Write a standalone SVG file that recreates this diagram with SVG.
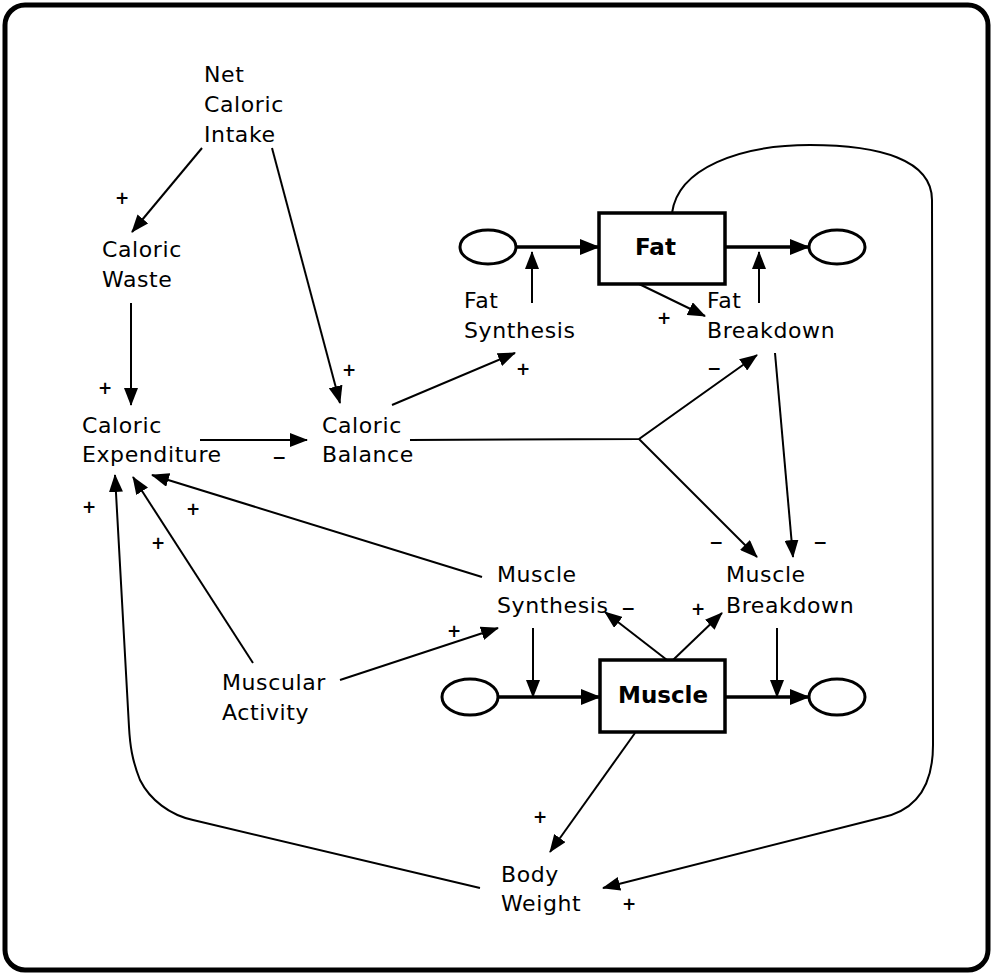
<svg xmlns="http://www.w3.org/2000/svg" width="994" height="976" viewBox="0 0 994 976">
<style>
.t{font-family:"DejaVu Sans",sans-serif;font-size:22px;fill:#000;letter-spacing:0.6px}
.b{font-family:"DejaVu Sans",sans-serif;font-size:23px;font-weight:bold;fill:#000}
.s{font-family:"DejaVu Sans",sans-serif;font-size:17px;font-weight:bold;fill:#000}
.l{fill:none;stroke:#000;stroke-width:2}
.p{fill:none;stroke:#000;stroke-width:3.5}
.box{fill:#fff;stroke:#000;stroke-width:3.5}
.cl{fill:#fff;stroke:#000;stroke-width:3}
</style>
<defs>
<marker id="a" viewBox="0 0 18 14" refX="17" refY="7" markerWidth="18" markerHeight="14" markerUnits="userSpaceOnUse" orient="auto">
<path d="M0,0 L18,7 L0,14 Z" fill="#000"/>
</marker>
<marker id="ab" viewBox="0 0 20 16" refX="19" refY="8" markerWidth="20" markerHeight="16" markerUnits="userSpaceOnUse" orient="auto">
<path d="M0,0 L20,8 L0,16 Z" fill="#000"/>
</marker>
</defs>
<rect x="5" y="5" width="983" height="965" rx="20" fill="#fff" stroke="#000" stroke-width="5"/>

<g id="connectors">
<path class="l" d="M202,148 L132,232" marker-end="url(#a)"/>
<path class="l" d="M272,148 L340,403" marker-end="url(#a)"/>
<path class="l" d="M131,303 L131,405" marker-end="url(#a)"/>
<path class="l" d="M200,440 L307,440" marker-end="url(#a)"/>
<path class="l" d="M392,405 L515,353" marker-end="url(#a)"/>
<path class="l" d="M410,440 L639,439 L757,355" marker-end="url(#a)"/>
<path class="l" d="M639,439 L757,557" marker-end="url(#a)"/>
<path class="l" d="M775,353 L793,557" marker-end="url(#a)"/>
<path class="l" d="M637,283 L705,316" marker-end="url(#a)"/>
<path class="l" d="M672,213 C678,168 740,145 810,145 C880,145 932,160 932,200 L933,745 C933,790 912,812 880,818 L603,888" marker-end="url(#a)"/>
<path class="l" d="M482,577 L152,475" marker-end="url(#a)"/>
<path class="l" d="M253,663 L133,477" marker-end="url(#a)"/>
<path class="l" d="M480,888 L193,820 C170,815 150,800 140,780 C132,760 130,745 129,727 L115,475" marker-end="url(#a)"/>
<path class="l" d="M340,680 L498,628" marker-end="url(#a)"/>
<path class="l" d="M667,660 L605,612" marker-end="url(#a)"/>
<path class="l" d="M673,660 L722,613" marker-end="url(#a)"/>
<path class="l" d="M635,733 L550,852" marker-end="url(#a)"/>
<path class="l" d="M532,303 L532,252" marker-end="url(#a)"/>
<path class="l" d="M759,303 L759,252" marker-end="url(#a)"/>
<path class="l" d="M533,628 L533,697" marker-end="url(#a)"/>
<path class="l" d="M777,628 L777,697" marker-end="url(#a)"/>
<path class="p" d="M516,247 L599,247" marker-end="url(#ab)"/>
<path class="p" d="M725,247 L809,247" marker-end="url(#ab)"/>
<path class="p" d="M498,697 L600,697" marker-end="url(#ab)"/>
<path class="p" d="M725,697 L809,697" marker-end="url(#ab)"/>
</g>

<g id="signs">
<text class="s" x="115" y="204">+</text>
<text class="s" x="342" y="376">+</text>
<text class="s" x="98" y="394">+</text>
<text class="s" x="272" y="463">−</text>
<text class="s" x="516" y="375">+</text>
<text class="s" x="657" y="324">+</text>
<text class="s" x="707" y="374">−</text>
<text class="s" x="709" y="548">−</text>
<text class="s" x="813" y="548">−</text>
<text class="s" x="82" y="513">+</text>
<text class="s" x="151" y="549">+</text>
<text class="s" x="186" y="515">+</text>
<text class="s" x="447" y="637">+</text>
<text class="s" x="621" y="614">−</text>
<text class="s" x="691" y="615">+</text>
<text class="s" x="533" y="823">+</text>
<text class="s" x="622" y="910">+</text>
</g>

<g id="fat-source"><ellipse class="cl" cx="488" cy="247" rx="28" ry="17"/></g>
<g id="fat-sink"><ellipse class="cl" cx="837" cy="247" rx="28" ry="17"/></g>
<g id="fat"><rect class="box" x="599" y="213" width="126" height="71"/><text class="b" x="635" y="255">Fat</text></g>
<g id="muscle-source"><ellipse class="cl" cx="470" cy="697" rx="28" ry="18"/></g>
<g id="muscle-sink"><ellipse class="cl" cx="837" cy="697" rx="28" ry="18"/></g>
<g id="muscle"><rect class="box" x="600" y="660" width="125" height="72"/><text class="b" x="618" y="703">Muscle</text></g>

<g id="net-caloric-intake"><text class="t" x="204" y="82">Net</text><text class="t" x="204" y="112">Caloric</text><text class="t" x="204" y="142">Intake</text></g>
<g id="caloric-waste"><text class="t" x="102" y="257">Caloric</text><text class="t" x="102" y="287">Waste</text></g>
<g id="caloric-expenditure"><text class="t" x="82" y="433">Caloric</text><text class="t" x="82" y="462">Expenditure</text></g>
<g id="caloric-balance"><text class="t" x="322" y="433">Caloric</text><text class="t" x="322" y="462">Balance</text></g>
<g id="fat-synthesis"><text class="t" x="464" y="308">Fat</text><text class="t" x="464" y="338">Synthesis</text></g>
<g id="fat-breakdown"><text class="t" x="707" y="308">Fat</text><text class="t" x="707" y="338">Breakdown</text></g>
<g id="muscle-synthesis"><text class="t" x="497" y="582">Muscle</text><text class="t" x="497" y="613">Synthesis</text></g>
<g id="muscle-breakdown"><text class="t" x="726" y="582">Muscle</text><text class="t" x="726" y="613">Breakdown</text></g>
<g id="muscular-activity"><text class="t" x="222" y="690">Muscular</text><text class="t" x="222" y="720">Activity</text></g>
<g id="body-weight"><text class="t" x="501" y="882">Body</text><text class="t" x="501" y="911">Weight</text></g>
</svg>
